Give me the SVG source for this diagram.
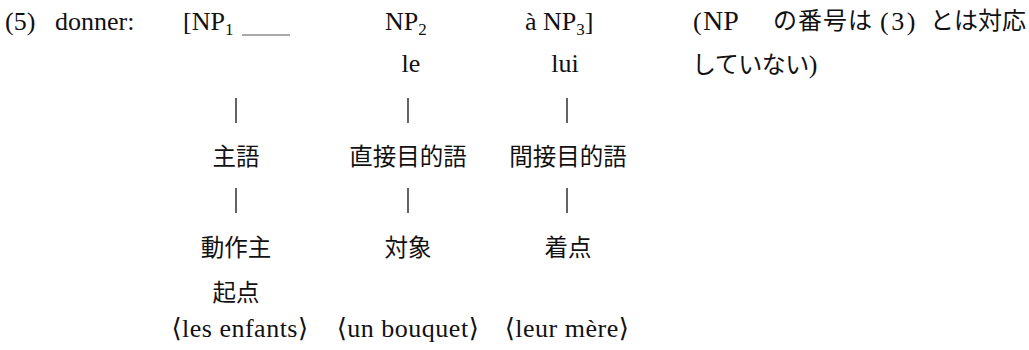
<svg xmlns="http://www.w3.org/2000/svg" width="1029" height="350" viewBox="0 0 1029 350">
<style>
.lat{font-family:"Liberation Serif","DejaVu Serif",serif;font-size:26px;fill:#111}
.sub{font-size:17px}
.cjk{font-family:"Noto Sans CJK JP","Noto Sans CJK SC",sans-serif;font-size:23.5px;fill:#111}
.rj{font-family:"Noto Sans CJK JP","Noto Sans CJK SC",sans-serif;font-size:24px;fill:#111}
.mid{text-anchor:middle}
.bar{stroke:#222;stroke-width:1.4}
</style>
<rect width="1029" height="350" fill="#fff"/>
<g id="label">
<text class="lat" x="5" y="30">(5)</text>
<text class="lat" x="55" y="30">donner:</text>
</g>
<g id="np1">
<text class="lat" x="183" y="30">[NP<tspan class="sub" dy="5">1</tspan></text>
<line x1="242" y1="35" x2="290" y2="35" stroke="#555" stroke-width="1.2"/>
</g>
<g id="np2">
<text class="lat" x="385" y="30">NP<tspan class="sub" dy="5">2</tspan></text>
<text class="lat mid" x="411" y="72">le</text>
</g>
<g id="np3">
<text class="lat" x="525" y="30">à NP<tspan class="sub" dy="5">3</tspan><tspan dy="-5">]</tspan></text>
<text class="lat mid" x="565" y="72">lui</text>
</g>
<g id="note">
<text class="lat" x="693" y="30">(<tspan x="703" style="font-size:28px">NP</tspan></text>
<text class="rj" x="773" y="29" letter-spacing="1">の番号は</text>
<text class="lat" x="880" y="30" letter-spacing="2.5">(3)</text>
<text class="rj" x="930" y="29">とは対応</text>
<text class="rj" x="692" y="73" letter-spacing="-0.5">していない<tspan class="lat" style="letter-spacing:0">)</tspan></text>
</g>
<g id="connectors">
<line class="bar" x1="236" y1="98" x2="236" y2="123"/>
<line class="bar" x1="408" y1="98" x2="408" y2="123"/>
<line class="bar" x1="567" y1="98" x2="567" y2="123"/>
<line class="bar" x1="236" y1="188" x2="236" y2="213"/>
<line class="bar" x1="408" y1="188" x2="408" y2="213"/>
<line class="bar" x1="567" y1="188" x2="567" y2="213"/>
</g>
<g id="subject">
<text class="cjk mid" x="236" y="165">主語</text>
<text class="cjk mid" x="236" y="256">動作主</text>
<text class="cjk mid" x="236" y="301">起点</text>
<text class="lat mid" x="240" y="337" letter-spacing="0.5">⟨les enfants⟩</text>
</g>
<g id="direct-object">
<text class="cjk mid" x="408" y="165">直接目的語</text>
<text class="cjk mid" x="408" y="256">対象</text>
<text class="lat mid" x="408" y="337" letter-spacing="0.5">⟨un bouquet⟩</text>
</g>
<g id="indirect-object">
<text class="cjk mid" x="568" y="165">間接目的語</text>
<text class="cjk mid" x="568" y="256">着点</text>
<text class="lat mid" x="567" y="337" letter-spacing="0.5">⟨leur mère⟩</text>
</g>
</svg>
